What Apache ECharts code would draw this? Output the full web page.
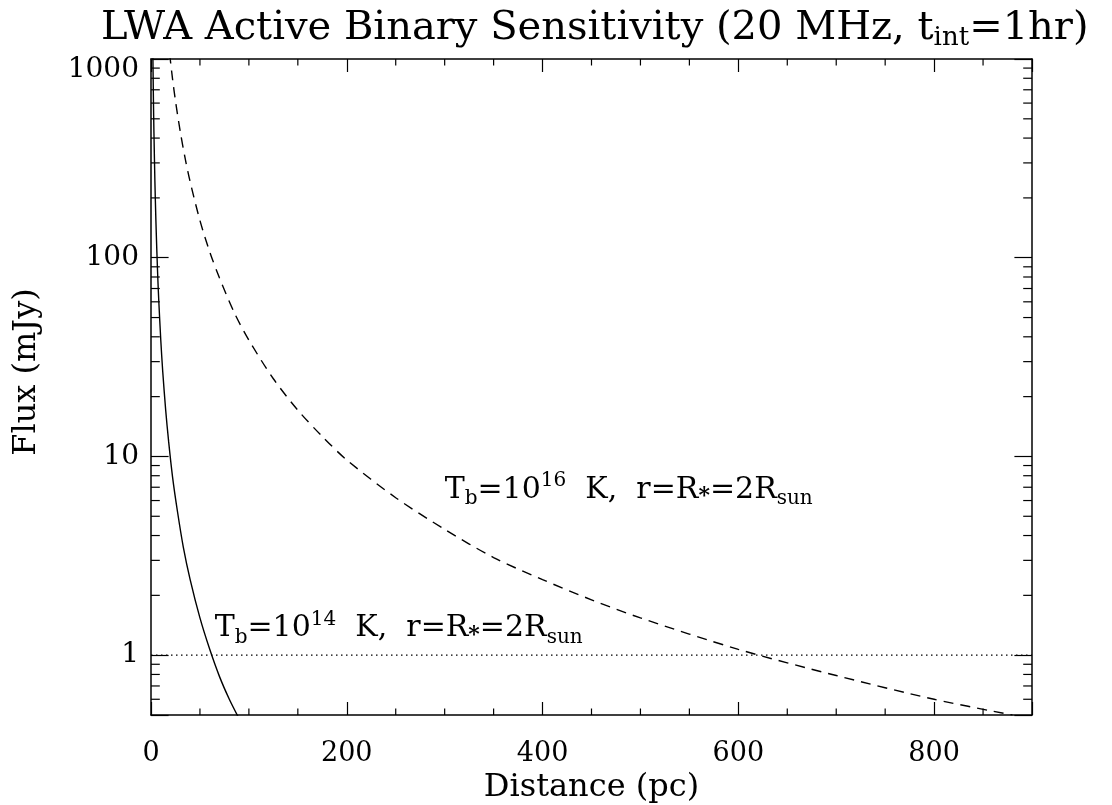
<!DOCTYPE html>
<html>
<head>
<meta charset="utf-8">
<title>LWA Active Binary Sensitivity</title>
<script src="https://cdn.jsdelivr.net/npm/echarts@6/dist/echarts.min.js"></script>
<style>
  html, body { margin: 0; padding: 0; background: #fff; }
  #chart { width: 1112px; height: 805px; }
</style>
</head>
<body>
<div id="chart"></div>
<script>
/* ── Data: distance (pc) vs flux (mJy) ── */
var solidDist = [1.9, 2.5, 3, 4, 5, 6, 7, 8, 10, 12, 15, 18, 22, 27, 33, 40, 50, 60, 70, 80, 89];
var solidFlux = [1065, 615, 427, 240, 154, 107, 78, 60, 38.4, 26.7, 17.1, 11.9, 7.9, 5.3, 3.5, 2.4, 1.54, 1.07, 0.78, 0.60, 0.49];

var dashDist = [19, 22, 25, 30, 35, 40, 50, 60, 70, 85, 100, 125, 150, 175, 200, 250, 300, 350, 400, 450, 500, 600, 700, 800, 880];
var dashFlux = [1065, 795, 616, 428, 314, 241, 154, 107, 79, 53, 38.5, 24.6, 17.1, 12.6, 9.6, 6.2, 4.3, 3.1, 2.4, 1.9, 1.54, 1.07, 0.79, 0.60, 0.50];

var limitDist = [0, 900];
var limitFlux = [1, 1];

var xMin = 0, xMax = 900, xStep = 200;
var yMin = 0.5, yMax = 1000;
var xMinor = [50, 100, 150, 250, 300, 350, 450, 500, 550, 650, 700, 750, 850];
var yMinor = [0.6, 0.7, 0.8, 0.9, 2, 3, 4, 5, 6, 7, 8, 9, 20, 30, 40, 50, 60, 70, 80, 90,
              200, 300, 400, 500, 600, 700, 800, 900];

// annotation anchors (left edge, vertical middle) and exponents
var noteX = [300, 65];
var noteY = [6.8, 1.37];
var noteExp = ['16', '14'];

/* ── helpers ── */
var FONT = 'DejaVu Serif';
function pairs(xs, ys) { return xs.map(function(x, i) { return [x, ys[i]]; }); }

var txtRich = {
  m:    { fontFamily: FONT, fontSize: 30, fill: '#000', color: '#000' },
  sub:  { fontFamily: FONT, fontSize: 20, fill: '#000', color: '#000', padding: [19, 0, 0, 0] },
  sup:  { fontFamily: FONT, fontSize: 20, fill: '#000', color: '#000', padding: [0, 0, 17, 0] },
  star: { fontFamily: FONT, fontSize: 22, fontWeight: 'bold', fill: '#000', color: '#000', padding: [14, 0, 0, 0] }
};
function tbLabel(exp) {
  return '{m|T}{sub|b}{m|=10}{sup|' + exp + '}{m|  K,  r=R}{star|*}{m|=2R}{sub|sun}';
}

var axisLineStyle = { color: '#000', width: 1.5 };
var tickStyle = { color: '#000', width: 1.2 };

function xAxisCfg(pos, showLabels) {
  return {
    type: 'value', position: pos, min: xMin, max: xMax, interval: xStep,
    axisLine: { show: true, onZero: false, lineStyle: axisLineStyle },
    axisTick: { show: true, inside: true, length: 13, lineStyle: tickStyle },
    splitLine: { show: false },
    axisLabel: {
      show: showLabels, margin: 25, color: '#000', fontFamily: FONT, fontSize: 27,
      formatter: function(v) { return v === xMax ? '' : String(v); }
    },
    name: showLabels ? 'Distance (pc)' : '',
    nameLocation: 'middle', nameGap: 50,
    nameTextStyle: { color: '#000', fontFamily: FONT, fontSize: 32 }
  };
}

function isDecade(v) {
  var l = Math.log(v) / Math.LN10;
  return Math.abs(l - Math.round(l)) < 1e-6;
}

function yAxisCfg(pos, showLabels) {
  return {
    type: 'log', logBase: 10, position: pos, min: yMin, max: yMax,
    axisLine: { show: true, onZero: false, lineStyle: axisLineStyle },
    axisTick: { show: true, inside: true, length: 17.6, lineStyle: tickStyle },
    splitLine: { show: false },
    minorTick: { show: false },
    axisLabel: {
      show: showLabels, margin: 12, color: '#000', fontFamily: FONT, fontSize: 28,
      formatter: function(v) {
        if (!isDecade(v)) return '';
        var n = Math.round(v);
        if (n >= 1000) return '{top|' + n + '}';
        return String(n);
      },
      rich: { top: { fontFamily: FONT, fontSize: 28, color: '#000', padding: [22, 0, 0, 0] } }
    },
    name: showLabels ? 'Flux (mJy)' : '',
    nameLocation: 'middle', nameGap: 108, nameRotate: 90,
    nameTextStyle: { color: '#000', fontFamily: FONT, fontSize: 32, padding: [0, 0, 0, 30] }
  };
}

/* minor ticks drawn through the axes' own scales */
function xMinorRender(params, api) {
  var b = api.coord([api.value(0), yMin]);
  var t = api.coord([api.value(0), yMax]);
  return { type: 'group', children: [
    { type: 'line', shape: { x1: b[0], y1: b[1], x2: b[0], y2: b[1] - 6.5 }, style: { stroke: '#000', lineWidth: 1.2 } },
    { type: 'line', shape: { x1: t[0], y1: t[1], x2: t[0], y2: t[1] + 6.5 }, style: { stroke: '#000', lineWidth: 1.2 } }
  ] };
}
function yMinorRender(params, api) {
  var l = api.coord([xMin, api.value(1)]);
  var r = api.coord([xMax, api.value(1)]);
  return { type: 'group', children: [
    { type: 'line', shape: { x1: l[0], y1: l[1], x2: l[0] + 8.8, y2: l[1] }, style: { stroke: '#000', lineWidth: 1.2 } },
    { type: 'line', shape: { x1: r[0], y1: r[1], x2: r[0] - 8.8, y2: r[1] }, style: { stroke: '#000', lineWidth: 1.2 } }
  ] };
}
function noteRender(params, api) {
  var p = api.coord([api.value(0), api.value(1)]);
  return {
    type: 'text', x: p[0], y: p[1],
    style: {
      text: tbLabel(noteExp[params.dataIndex]), rich: txtRich,
      fill: '#000', align: 'left', verticalAlign: 'middle',
      fontFamily: FONT, fontSize: 30
    }
  };
}

var ch = echarts.init(document.getElementById('chart'), null, { renderer: 'canvas' });
ch.setOption({
  backgroundColor: '#fff',
  animation: false,
  title: {
    text: '{a|LWA Active Binary Sensitivity (20 MHz, t}{s|int}{a|=1hr)}',
    left: 96, top: 2,
    textStyle: {
      fontWeight: 'normal',
      rich: {
        a: { fontFamily: FONT, fontSize: 40, fontWeight: 'normal', color: '#000' },
        s: { fontFamily: FONT, fontSize: 26, fontWeight: 'normal', color: '#000', padding: [18, 0, 0, 0] }
      }
    }
  },
  grid: { left: 151, right: 80, top: 59, bottom: 90, containLabel: false, outerBoundsMode: 'none' },
  xAxis: [xAxisCfg('bottom', true), xAxisCfg('top', false)],
  yAxis: [yAxisCfg('left', true), yAxisCfg('right', false)],
  series: [
    { name: 'Tb=1e14', type: 'line', data: pairs(solidDist, solidFlux), smooth: 0.3,
      symbol: 'none', clip: true, silent: true,
      lineStyle: { color: '#000', width: 1.4, type: 'solid' } },
    { name: 'Tb=1e16', type: 'line', data: pairs(dashDist, dashFlux), smooth: 0.3,
      symbol: 'none', clip: true, silent: true,
      lineStyle: { color: '#000', width: 1.4, type: [10, 7] } },
    { name: 'limit', type: 'line', data: pairs(limitDist, limitFlux),
      symbol: 'none', silent: true,
      lineStyle: { color: '#000', width: 1.2, type: [1.5, 3.5] } },
    { type: 'custom', coordinateSystem: 'cartesian2d', silent: true,
      data: xMinor.map(function(v) { return [v, 1]; }), renderItem: xMinorRender },
    { type: 'custom', coordinateSystem: 'cartesian2d', silent: true,
      data: yMinor.map(function(v) { return [xMin, v]; }), renderItem: yMinorRender },
    { type: 'custom', coordinateSystem: 'cartesian2d', silent: true,
      data: pairs(noteX, noteY), renderItem: noteRender }
  ]
});
</script>
</body>
</html>
